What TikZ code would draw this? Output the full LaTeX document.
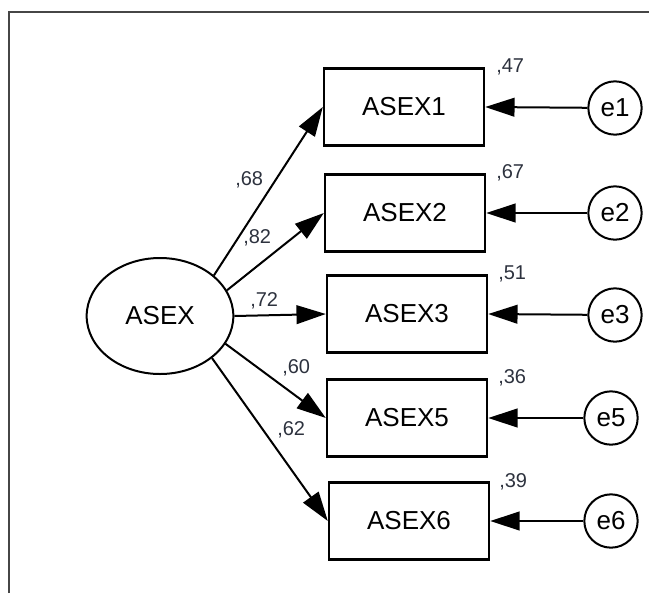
\documentclass[tikz,border=0pt]{standalone}
\usepackage{fontspec}
\setmainfont{Liberation Sans}
\usetikzlibrary{arrows.meta,shapes.geometric}
\definecolor{labgray}{RGB}{45,50,62}
\definecolor{framegray}{RGB}{70,70,70}
\begin{document}
\begin{tikzpicture}[x=0.75pt,y=-0.75pt,
  obs/.style={draw=black, line width=1.8pt, fill=white, minimum width=120pt, minimum height=58pt, inner sep=0pt, font=\fontsize{19.5}{20}\selectfont},
  err/.style={circle, draw=black, line width=1.5pt, fill=white, minimum size=40pt, inner sep=0pt, font=\fontsize{19.5}{20}\selectfont},
  lat/.style={ellipse, draw=black, line width=1.5pt, fill=white, minimum width=110pt, minimum height=87pt, inner sep=0pt, font=\fontsize{19.5}{20}\selectfont},
  pathar/.style={line width=1.5pt, -{Triangle[length=22pt,width=14pt]}},
  lbl/.style={anchor=base west, inner sep=0pt, text=labgray, font=\fontsize{15}{15}\selectfont}]
\useasboundingbox (0,0) rectangle (649,593);
\draw[line width=1pt, framegray] (9,593) -- (9,12) -- (649,12);

\node[lat] (L) at (160,316) {ASEX};

\node[obs] (x1) at (404,107) {ASEX1};
\node[obs] (x2) at (405,213) {ASEX2};
\node[obs] (x3) at (407,314) {ASEX3};
\node[obs] (x5) at (407,418) {ASEX5};
\node[obs] (x6) at (409,521) {ASEX6};

\node[err] (e1) at (615,108) {e1};
\node[err] (e2) at (615,213) {e2};
\node[err] (e3) at (615,315) {e3};
\node[err] (e5) at (611,418) {e5};
\node[err] (e6) at (611,521) {e6};

\draw[pathar] (L.37) -- (x1.west);
\draw[pathar] (L.21) -- (x2.west);
\draw[pathar] (L.0) -- (x3.west);
\draw[pathar] (L.-23) -- (x5.west);
\draw[pathar] (L.-39) -- (x6.west);

\foreach \i in {1,2,3,5,6} {
  \draw[pathar] (e\i) -- (x\i.east);
}

\node[lbl] (l1) at (235,185) {,68};
\node[lbl] (l2) at (243,243) {,82};
\node[lbl] (l3) at (250,306) {,72};
\node[lbl] (l5) at (282,373) {,60};
\node[lbl] (l6) at (277,435) {,62};

\node[lbl] (r1) at (496,72) {,47};
\node[lbl] (r2) at (496,178) {,67};
\node[lbl] (r3) at (498,279) {,51};
\node[lbl] (r5) at (498,383) {,36};
\node[lbl] (r6) at (499,487) {,39};
\end{tikzpicture}
\end{document}
